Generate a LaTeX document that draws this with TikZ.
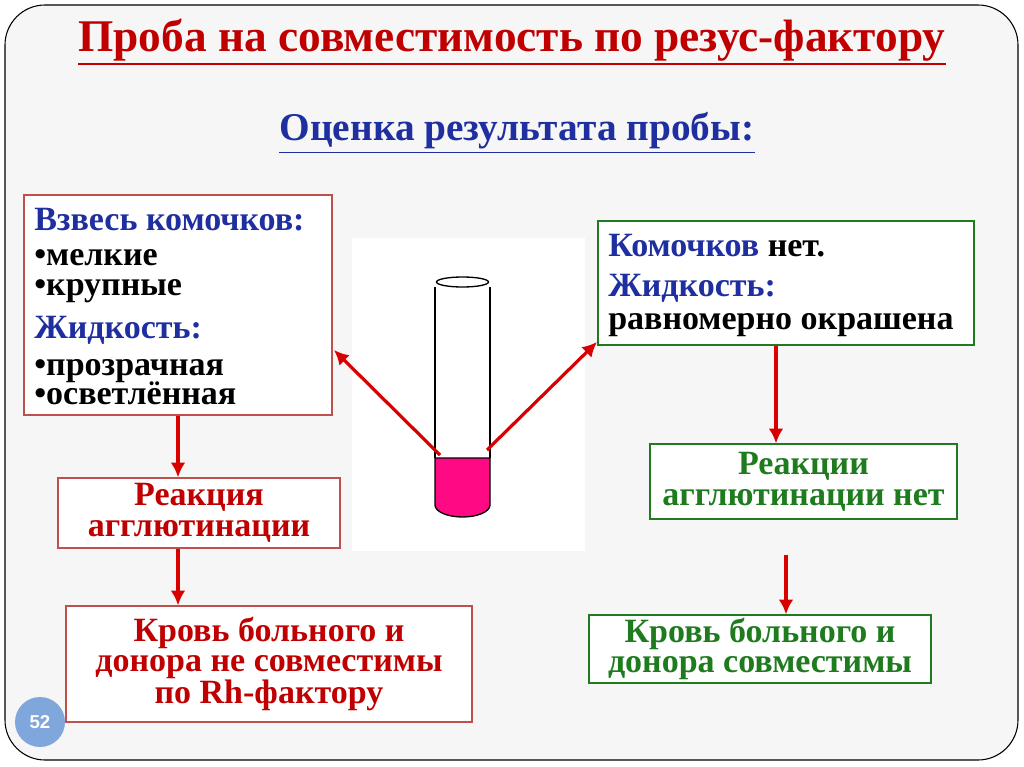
\documentclass[tikz,border=0pt]{standalone}
\usepackage{fontspec}
\usetikzlibrary{arrows.meta,calc}
\setmainfont{Liberation Serif}
\newfontfamily\numfont{Liberation Sans}
\definecolor{tred}{HTML}{C00000}
\definecolor{tblue}{HTML}{1F2FA0}
\definecolor{tgreen}{HTML}{1E7B1E}
\definecolor{bred}{HTML}{C0504D}
\definecolor{pinkf}{HTML}{FF0A84}
\definecolor{pgc}{HTML}{7FA7DC}
\begin{document}
\begin{tikzpicture}[x=0.75pt,y=-0.75pt,
  box/.style={draw,fill=white,line width=1pt,inner sep=0pt},
  arr/.style={draw=red!85!black,line width=2.4pt,-{Latex[length=11pt,width=11pt]}},
  txt/.style={font=\bfseries\fontsize{25.5}{23}\selectfont,align=center,inner sep=0pt}]
\useasboundingbox (0,0) rectangle (1024,767);
\fill[white] (0,0) rectangle (1024,767);
\draw[fill=gray!7,line width=0.8pt] (5,5) [rounded corners=30pt] rectangle (1018,760);
% title
\node[font=\bfseries\fontsize{34}{38}\selectfont,text=tred,inner sep=0pt] (title) at (512,40) {Проба на совместимость по резус-фактору};
\draw[tred,line width=1.5pt] ($(title.south west)+(0,3)$) -- ($(title.south east)+(0,3)$);
\node[font=\bfseries\fontsize{29.5}{32}\selectfont,text=tblue,inner sep=0pt] (sub) at (517,131) {Оценка результата пробы:};
\draw[tblue,line width=1.3pt] ($(sub.south west)+(0,3)$) -- ($(sub.south east)+(0,3)$);
% white panel and tube
\fill[white] (352,238) rectangle (585,551);
\fill[pinkf] (435,458) -- (435,505) arc[start angle=180,end angle=0,x radius=27.5,y radius=12] -- (490,458) -- cycle;
\draw[line width=1pt] (435,458) -- (435,505) arc[start angle=180,end angle=0,x radius=27.5,y radius=12] -- (490,458) -- cycle;
\draw[line width=1pt] (435,287) -- (435,458) (490,287) -- (490,458);
\draw[line width=1pt] (462.5,282) ellipse[x radius=26,y radius=5];
% left boxes
\node[box,draw=bred,minimum width=308*0.75pt,minimum height=220*0.75pt] (L1) at (178,305) {};
\node[txt,align=left,anchor=north west] (L1t) at (34,208) {\textcolor{tblue}{Взвесь комочков:}\\[3pt] •мелкие\\ •крупные\\[9pt] \textcolor{tblue}{Жидкость:}\\[5pt] •прозрачная\\[-1.5pt] •осветлённая};
\node[box,draw=bred,minimum width=282*0.75pt,minimum height=70*0.75pt,txt,text=tred] (L2) at (199,513) {Реакция\\агглютинации};
\node[box,draw=bred,minimum width=406*0.75pt,minimum height=116*0.75pt,txt,text=tred] (L3) at (269,664) {Кровь больного и\\донора не совместимы\\по Rh-фактору};
% right boxes
\node[box,draw=tgreen,minimum width=376*0.75pt,minimum height=124*0.75pt] (R1) at (786,283) {};
\node[txt,align=left,anchor=north west] (R1t) at (608,234) {\textcolor{tblue}{Комочков} нет.\\[7pt] \textcolor{tblue}{Жидкость:}\\[2pt] равномерно окрашена};
\node[box,draw=tgreen,minimum width=307*0.75pt,minimum height=75*0.75pt,txt,text=tgreen] (R2) at (803.5,481.5) {Реакции\\агглютинации нет};
\node[box,draw=tgreen,minimum width=342*0.75pt,minimum height=68*0.75pt,txt,text=tgreen] (R3) at (760,649) {Кровь больного и\\донора совместимы};
% arrows
\coordinate (tl) at (440,455);
\coordinate (tr) at (487,450);
\draw[arr] (tl) -- (334,350);
\draw[arr] (tr) -- (597,342);
\draw[arr] (L1.south -| 178,0) -- (L2.north -| 178,0);
\draw[arr] (L2.south -| 178,0) -- (L3.north -| 178,0);
\draw[arr] (R1.south -| 776,0) -- (R2.north -| 776,0);
\coordinate (r3a) at (786,555);
\draw[arr] (r3a) -- (R3.north -| 786,0);
% page number
\node[circle,fill=pgc,minimum size=50*0.75pt,text=white,font=\numfont\bfseries\fontsize{14}{15}\selectfont] (pg) at (40,722) {52};
\end{tikzpicture}
\end{document}
